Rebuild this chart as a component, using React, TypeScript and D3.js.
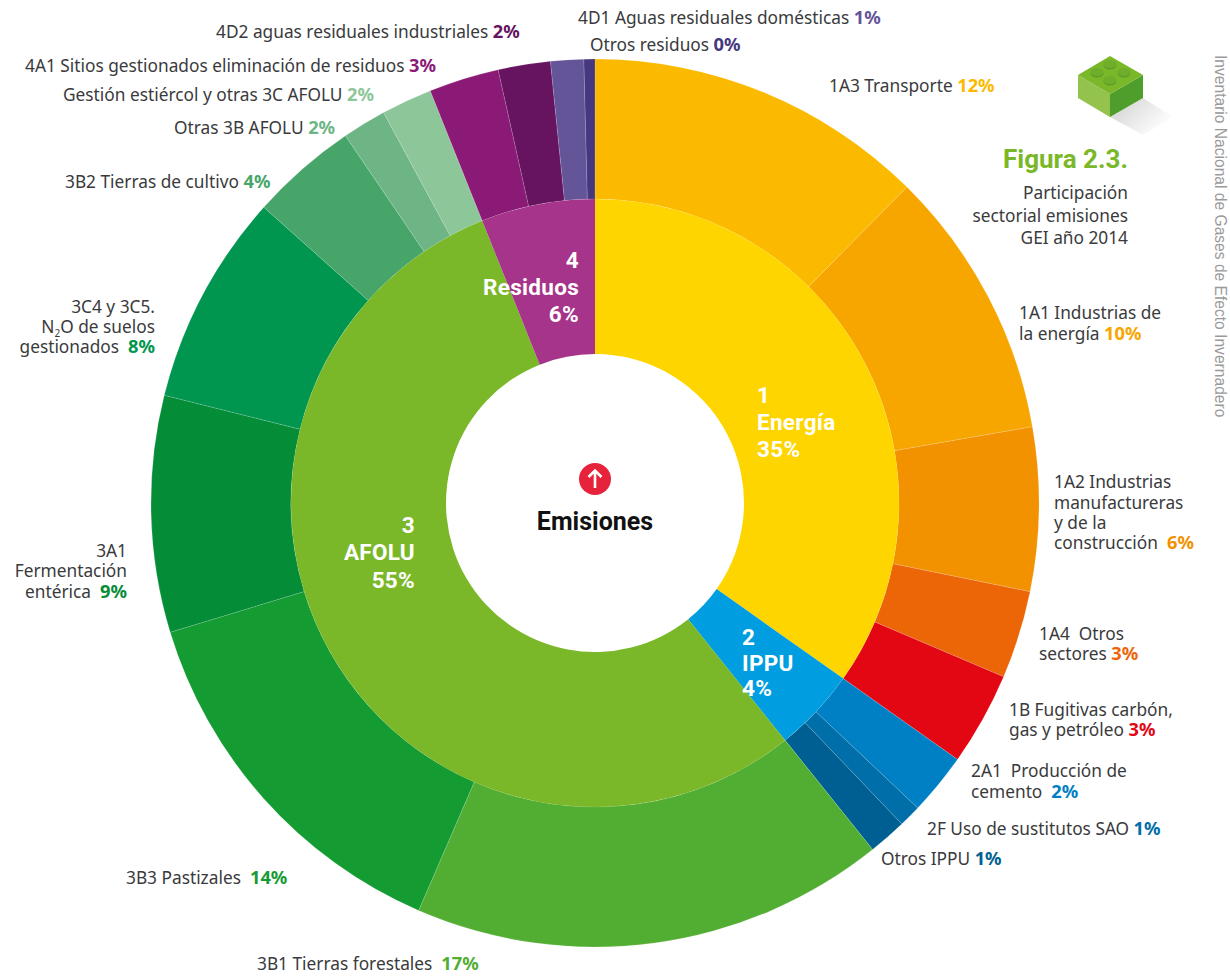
import React from "react";
import * as d3 from "d3";

// ---------- data ----------
const innerNames = ["Energía", "IPPU", "AFOLU", "Residuos"];
const innerValues = [34.8, 4.45, 54.7, 6.05];
const innerColors = ["#ffd500", "#009ee0", "#7ab829", "#a5348a"];
const innerLabelLines = [["1", "Energía", "35%"], ["2", "IPPU", "4%"], ["3", "AFOLU", "55%"], ["4", "Residuos", "6%"]];

const outerCodes = ["1A3", "1A1", "1A2", "1A4", "1B", "2A1", "2F", "OtrosIPPU", "3B1", "3B3", "3A1", "3C4", "3B2", "Otras3B", "Gestion", "4A1", "4D2", "4D1", "OtrosRes"];
const outerValues = [12.4, 9.85, 5.95, 3.2, 3.4, 2.25, 0.81, 1.39, 17.25, 13.8, 8.6, 7.7, 3.9, 1.6, 1.85, 2.55, 1.9, 1.2, 0.4];
const outerColors = ["#fbb900", "#f7a600", "#f39200", "#ec6608", "#e30613", "#0080c4", "#006ea8", "#005f92", "#52ae32", "#149c33", "#058c37", "#00964f", "#47a569", "#6eb585", "#8dc699", "#8b1a77", "#66145f", "#635598", "#46387f"];
const outerLabelLines: string[][] = [
  ["1A3 Transporte "],
  ["1A1 Industrias de", "la energía "],
  ["1A2 Industrias", "manufactureras", "y de la", "construcción  "],
  ["1A4  Otros", "sectores "],
  ["1B Fugitivas carbón,", "gas y petróleo "],
  ["2A1  Producción de", "cemento  "],
  ["2F Uso de sustitutos SAO "],
  ["Otros IPPU "],
  ["3B1 Tierras forestales  "],
  ["3B3 Pastizales  "],
  ["3A1", "Fermentación", "entérica  "],
  ["3C4 y 3C5.", "N|2|O de suelos", "gestionados  "],
  ["3B2 Tierras de cultivo "],
  ["Otras 3B AFOLU "],
  ["Gestión estiércol y otras 3C AFOLU "],
  ["4A1 Sitios gestionados eliminación de residuos "],
  ["4D2 aguas residuales industriales "],
  ["4D1 Aguas residuales domésticas "],
  ["Otros residuos "],
];
const outerPercents = ["12%", "10%", "6%", "3%", "3%", "2%", "1%", "1%", "17%", "14%", "9%", "8%", "4%", "2%", "2%", "3%", "2%", "1%", "0%"];
const titleText = "Figura 2.3.";
const subtitleLines = ["Participación", "sectorial emisiones", "GEI año 2014"];
const sideText = "Inventario Nacional de Gases de Efecto Invernadero";
const centerText = "Emisiones";

// ---------- layout ----------
const CX = 595, CY = 503, R_OUT = 444, R_MID = 304, R_IN = 149;
const outerLayout: { a: "start" | "end"; x: number; y: number[] }[] = [
  { a: "start", x: 829, y: [92] },
  { a: "start", x: 1019, y: [319, 340] },
  { a: "start", x: 1054, y: [488, 509, 529, 549] },
  { a: "start", x: 1039, y: [640, 660] },
  { a: "start", x: 1009, y: [716, 736] },
  { a: "start", x: 971, y: [777, 798] },
  { a: "start", x: 927, y: [835] },
  { a: "start", x: 881, y: [865] },
  { a: "start", x: 257, y: [970] },
  { a: "start", x: 126, y: [884] },
  { a: "end", x: 127, y: [557, 577, 598] },
  { a: "end", x: 155, y: [313, 333, 353] },
  { a: "start", x: 65, y: [188] },
  { a: "start", x: 174, y: [134] },
  { a: "start", x: 63, y: [101] },
  { a: "start", x: 25, y: [72] },
  { a: "start", x: 216, y: [38] },
  { a: "start", x: 578, y: [24] },
  { a: "start", x: 590, y: [51] },
];
const innerLayout: { a: "start" | "end"; x: number; y: number[] }[] = [
  { a: "start", x: 757, y: [403, 430, 457] },
  { a: "start", x: 742, y: [645, 671, 696] },
  { a: "end", x: 415, y: [533, 560, 588] },
  { a: "end", x: 579, y: [268, 295, 322] },
];
const FONT = "'Noto Sans', sans-serif";
const BOLD = "Roboto, sans-serif";
const TEXT = "#3a3a3c";
const FS = 17.3;
const FS_PCT = 18.3;

const pie = d3.pie<number>().sort(null).value((d) => d);
const outerArc = d3.arc<d3.PieArcDatum<number>>().innerRadius(R_MID).outerRadius(R_OUT);
const innerArc = d3.arc<d3.PieArcDatum<number>>().innerRadius(R_IN).outerRadius(R_MID);

function lineContent(line: string) {
  const parts = line.split("|");
  if (parts.length === 3) {
    return (
      <>
        {parts[0]}
        <tspan fontSize={10} dy={4}>{parts[1]}</tspan>
        <tspan dy={-4}>{parts[2]}</tspan>
      </>
    );
  }
  return line;
}

export default function App() {
  return (
    <svg
      width={1230}
      height={976}
      viewBox="0 0 1230 976"
      style={{ position: "absolute", left: 0, top: 0, display: "block", background: "#fff" }}
    >
      <defs>
        <linearGradient id="shadow" x1="0" y1="0" x2="1" y2="0.6">
          <stop offset="0" stopColor="#cfcfcf" />
          <stop offset="1" stopColor="#ffffff" />
        </linearGradient>
      </defs>

      <g transform={`translate(${CX},${CY})`}>
        {pie(outerValues).map((d, i) => (
          <path key={outerCodes[i]} d={outerArc(d) as string} fill={outerColors[i]} stroke="#ffffff" strokeOpacity={0.2} strokeWidth={0.7} />
        ))}
        {pie(innerValues).map((d, i) => (
          <path key={innerNames[i]} d={innerArc(d) as string} fill={innerColors[i]} />
        ))}
      </g>

      {innerLabelLines.map((lines, i) => (
        <g key={innerNames[i]} fontFamily={BOLD} fontWeight={700} fontSize={22.5} letterSpacing={0.3} fill="#fff" textAnchor={innerLayout[i].a}>
          {lines.map((t, j) => (
            <text key={j} x={innerLayout[i].x} y={innerLayout[i].y[j]}>{t}</text>
          ))}
        </g>
      ))}

      {outerLabelLines.map((lines, i) => (
        <g key={outerCodes[i]} fontFamily={FONT} fontSize={FS} fill={TEXT} textAnchor={outerLayout[i].a}>
          {lines.map((t, j) => (
            <text key={j} x={outerLayout[i].x} y={outerLayout[i].y[j]} xmlSpace="preserve" style={{ whiteSpace: "pre" }}>
              {lineContent(t)}
              {j === lines.length - 1 && (
                <tspan fontWeight={700} fontSize={FS_PCT} fill={outerColors[i]}>{outerPercents[i]}</tspan>
              )}
            </text>
          ))}
        </g>
      ))}

      {/* centre */}
      <circle cx={CX} cy={479} r={16} fill="#e6233a" />
      <path d={`M${CX} 488V471M${CX - 6.5} 477L${CX} 470.5L${CX + 6.5} 477`} fill="none" stroke="#fff" strokeWidth={2.6} />
      <text x={CX} y={530} textAnchor="middle" fontFamily={BOLD} fontWeight={700} fontSize={25} fill="#111">{centerText}</text>

      {/* brick */}
      <polygon points="1110,117 1143,98 1173,117 1143,135" fill="url(#shadow)" />
      <polygon points="1078,75 1110,94 1110,117 1078,98" fill="#93c34c" />
      <polygon points="1143,75 1110,94 1110,117 1143,98" fill="#4f9e2c" />
      <polygon points="1110,56 1143,75 1110,94 1078,75" fill="#7ab829" />
      {[[1110, 64], [1097, 72], [1124, 72], [1110, 80]].map(([x, y]) => (
        <g key={`${x}-${y}`}>
          <ellipse cx={x} cy={y + 1.5} rx={6.5} ry={4} fill="#5f9f27" />
          <ellipse cx={x} cy={y} rx={6.5} ry={4} fill="#6fae2a" />
        </g>
      ))}

      {/* heading */}
      <text x={1128} y={168} textAnchor="end" fontFamily={BOLD} fontWeight={700} fontSize={26} fill="#7ab829">{titleText}</text>
      {subtitleLines.map((t, i) => (
        <text key={t} x={1128} y={[199, 222, 244][i]} textAnchor="end" fontFamily={FONT} fontSize={FS} fill={TEXT}>{t}</text>
      ))}

      {/* side */}
      <text transform="translate(1215,55) rotate(90)" fontFamily="'Liberation Sans', sans-serif" fontSize={15.6} fill="#9a9a9a">{sideText}</text>
    </svg>
  );
}
